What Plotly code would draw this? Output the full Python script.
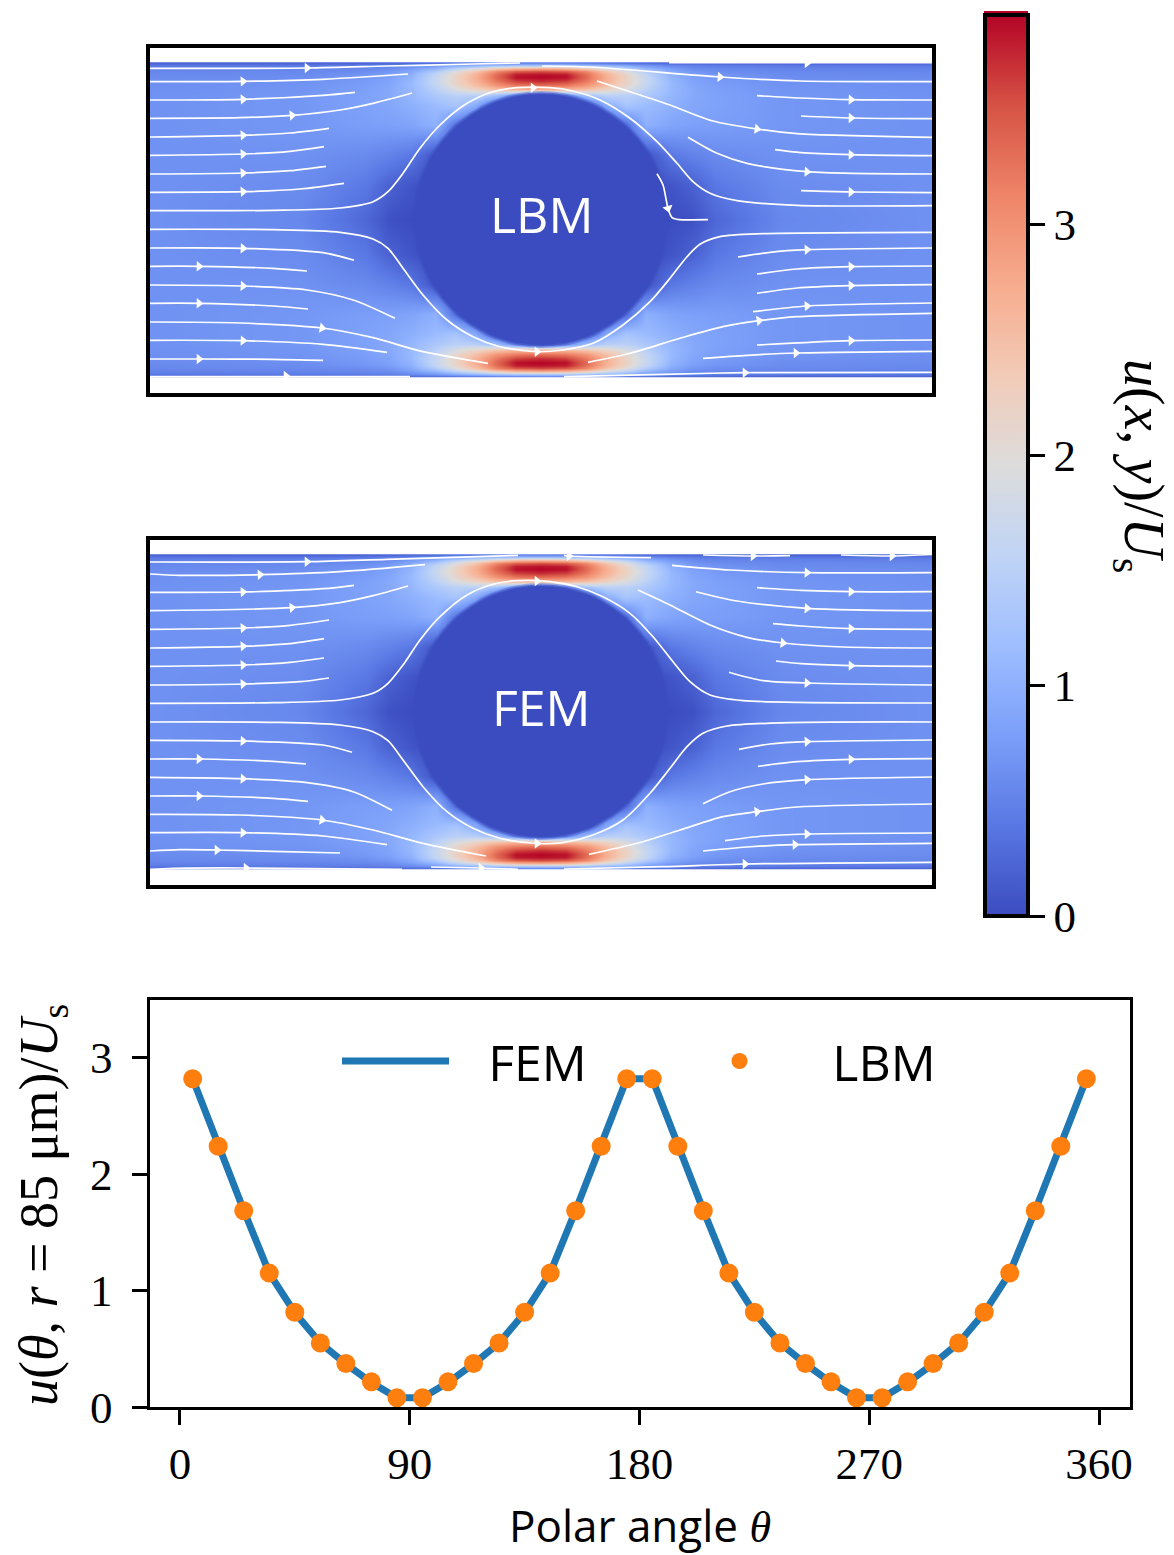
import numpy as np
import plotly.graph_objects as go

# ---------- line plot data ----------
THETA = [5,15,25,35,45,55,65,75,85,95,105,115,125,135,145,155,165,175,
         185,195,205,215,225,235,245,255,265,275,285,295,305,315,325,335,345,355]
LBM_U = [2.82,2.24,1.685,1.15,0.813,0.55,0.373,0.216,0.08,0.08,0.216,0.373,0.55,0.813,1.15,1.685,2.24,2.82,
         2.82,2.24,1.685,1.15,0.813,0.55,0.373,0.216,0.08,0.08,0.216,0.373,0.55,0.813,1.15,1.685,2.24,2.82]
FEM_U = [2.82,2.24,1.69,1.15,0.81,0.55,0.37,0.21,0.08,0.08,0.21,0.37,0.55,0.81,1.15,1.69,2.24,2.82,
         2.82,2.24,1.69,1.15,0.81,0.55,0.37,0.21,0.08,0.08,0.21,0.37,0.55,0.81,1.15,1.69,2.24,2.82]

# ---------- speed field (one quarter of the channel, lattice units) ----------
FIELD_X = [0,152,217,240,262,287,307,327,347,367,392]
FIELD_Y = [17.5,18,20,23,26,29,32,36,40,44,50,60,80,110,140,174.5]
SPEED_Q = [
 [.22,.22,.24,.26,.28,.32,.38,.42,.48,.52,.55],
 [.24,.24,.26,.27,.30,.36,.42,.48,.55,.60,.62],
 [.40,.42,.45,.48,.55,.70,.90,1.05,1.2,1.3,1.3],
 [.50,.52,.55,.60,.75,1.05,1.5,1.85,2.3,2.6,2.7],
 [.55,.57,.62,.70,.90,1.4,1.95,2.45,3.1,3.45,3.55],
 [.58,.60,.68,.78,1.0,1.6,2.15,2.65,3.3,3.8,3.85],
 [.60,.62,.72,.82,1.05,1.65,2.2,2.7,3.35,3.85,3.9],
 [.62,.65,.75,.85,1.1,1.65,2.2,2.65,3.2,3.6,3.7],
 [.63,.67,.78,.88,1.1,1.6,2.1,2.5,2.95,3.2,3.3],
 [.64,.68,.80,.90,1.1,1.5,1.9,2.2,2.5,2.65,2.7],
 [.65,.70,.82,.90,1.08,1.35,1.5,1.5,1.2,.6,.3],
 [.65,.70,.82,.88,1.0,1.15,1.3,.9,.1,0,0],
 [.65,.70,.78,.80,.85,1.0,.3,0,0,0,0],
 [.65,.65,.58,.50,.40,.05,0,0,0,0,0],
 [.65,.60,.40,.20,.08,0,0,0,0,0,0],
 [.65,.55,.25,.05,0,0,0,0,0,0,0],
]
CYL_X = 392
CYL_Y = 174.5
CYL_SIZES = [257, 254, 251]
CYL_ALPHA = [0.35, 0.6, 1.0]

# ---------- streamlines (lattice units) ----------
LBM_STREAMS = [
 [(1,23.3),(158,23),(238,21),(324,19),(371,18)],
 [(1,36.7),(94,36.3),(174,34.3),(259,29)],
 [(1,55),(94,54.3),(174,50.3),(206,47.3)],
 [(1,73.3),(91,72.7),(143,70.3),(191,65),(224,58.3),(263,48)],
 [(1,92),(94,90.3),(141,88),(180,83.3)],
 [(1,110.3),(94,109),(141,106.3),(175,101.7)],
 [(1,129),(94,128),(141,125.7),(177,121.3)],
 [(1,147.3),(94,146.7),(151,144),(195,138.3)],
 [(1,165.7),(124,165.3),(191,163),(224,156.7),(239,146.7),(254,128.3),(271,103.3),(291,80),(318,58.3),(344,46.7),(368,42.7),(401,42.7),(424,46),(451,55),(481,73.3),(508,96.7),(528,118.3),(544,136.7),(561,148.3),(588,155.7),(648,160.3),(783,160.7)],
 [(1,184.3),(124,184.7),(191,187.3),(224,194),(239,203.3),(254,223.3),(274,250),(298,275),(324,291.7),(351,301.7),(388,306.7),(414,305),(444,298.3),(474,280),(501,256.7),(521,233.3),(538,211.7),(551,199.3),(571,191.7),(614,188.7),(783,187.3)],
 [(1,203),(94,203.3),(174,207.7),(205,215.3)],
 [(1,221.3),(50,221.3),(124,223.3),(158,226)],
 [(1,240),(94,241),(158,245),(204,255),(246,273.3)],
 [(1,258.3),(50,258.3),(124,261),(159,264)],
 [(1,277),(91,278),(173,283),(224,292.7),(274,306.7),(339,318.3)],
 [(1,295.3),(94,295.7),(174,299.3),(238,307.3)],
 [(1,314),(50,314),(124,314.3),(174,315.3)],
 [(1,331.7),(137,331.7),(261,331.7)],
 [(520,17.7),(658,17.7),(783,17.7)],
 [(393,21),(441,22),(571,32),(651,36),(783,36.7)],
 [(448,36),(481,46.7),(521,60),(564,76),(608,84),(648,88.7),(783,92.3)],
 [(608,50.7),(651,53),(702,54.7),(783,55)],
 [(652,71),(702,73),(783,73.7)],
 [(626,104.7),(652,107.7),(702,109.7),(783,110.7)],
 [(539,92.3),(568,108.3),(598,118.3),(658,126.7),(783,129)],
 [(652,145.7),(702,147),(783,147.7)],
 [(508,128.7),(514,140),(519,163.3),(523,172.7),(528,174.3),(559,174.7)],
 [(589,212),(621,207.3),(658,204.7),(783,203)],
 [(608,229),(648,224),(702,221.7),(783,221)],
 [(608,248.3),(648,243),(702,240.7),(783,239.7)],
 [(604,266.7),(658,261),(783,258)],
 [(439,317.3),(481,308.3),(531,293.3),(574,281.7),(610,275.7),(648,271.7),(783,268.3)],
 [(608,300),(702,295.7),(783,295)],
 [(554,313.3),(598,310.3),(647,308),(783,306.3)],
 [(415,331.7),(514,329.3),(596,327.7),(783,327.3)],
]
LBM_ARROW_X = [158,94,94,143,94,94,94,94,384,388,94,50,94,50,173,94,50,137,658,571,608,702,702,702,658,702,519,658,702,702,658,610,702,647,596]
LBM_ARROW_Y = [23,36.3,54.3,70.3,90.3,109,128,146.7,42.7,306.7,203.3,221.3,241,258.3,283,295.7,314,331,18,32,84,54.7,73,109.7,126.7,147,163.3,204.7,221.7,240.7,261,275.7,295.7,308,327.7]
LBM_ARROW_A = [0,-2,-2,-5,-3,-3,-3,-3,0,0,2,1,3,1,10,2,0,0,0,4,8,1,1,1,3,1,75,-2,-1,-1,-3,-8,-1,-1,0]

FEM_STREAMS = [
 [(1,25),(158,24.7),(238,22.3),(369,18.3)],
 [(1,37),(31,38.3),(111,37.7),(191,34.7),(276,27.7)],
 [(1,55.3),(94,55),(174,51.7),(205,48.3)],
 [(1,73.7),(143,70.7),(191,65.7),(224,58.7),(259,49)],
 [(1,92.3),(94,91),(141,88.3),(180,83)],
 [(1,111),(94,109.3),(141,106.7),(175,101.7)],
 [(1,129.3),(94,128),(141,125.3),(175,121)],
 [(1,148),(94,147),(151,144.7),(180,141)],
 [(1,166.3),(124,165.7),(191,163),(224,156.3),(239,146.3),(254,128),(271,103),(291,79.7),(318,58),(344,47.3),(368,43.7),(401,44.7),(428,49.7),(454,59.7),(481,76.3),(504,99.7),(524,124.7),(541,144.7),(561,158),(594,163.7),(648,165.3),(783,166)],
 [(1,185),(124,185.3),(191,188),(224,194.7),(239,203.7),(254,223),(274,249.7),(298,274.7),(324,291.3),(351,301.3),(388,306.5),(414,305.7),(444,298),(474,283),(501,256.3),(521,231.3),(538,209.7),(554,196.3),(578,189),(641,185.7),(783,185)],
 [(1,203.3),(94,204),(174,208),(203,215.3)],
 [(1,222),(50,222),(124,224.3),(157,227)],
 [(1,240.3),(94,241.7),(158,245.7),(204,254.7),(243,273.3)],
 [(1,259),(50,259),(124,261.3),(159,264.3)],
 [(1,277.3),(91,278),(173,283),(224,293),(274,306.3),(337,319)],
 [(1,295.7),(94,295.7),(174,299),(238,307.7)],
 [(1,314),(31,312.7),(68,313),(124,314.3),(191,316)],
 [(1,332.3),(24,331.3),(97,331),(253,332.3)],
 [(282,330),(332,331),(369,332.3)],
 [(415,18.3),(420,19),(502,20.7)],
 [(554,18),(604,19),(641,18.7)],
 [(692,18),(743,19),(783,17.5)],
 [(523,28.3),(581,33),(658,35.7),(783,35.7)],
 [(608,50.7),(652,53.3),(702,54.7),(783,54.7)],
 [(547,54.7),(588,64),(658,71.3),(783,73.7)],
 [(624,86.7),(652,89),(702,91.7),(783,92.3)],
 [(489,53),(521,68),(561,88),(598,100.3),(634,106),(694,110),(783,111)],
 [(627,124),(652,126.7),(702,128.7),(783,129.3)],
 [(580,135.3),(614,143.7),(658,146),(783,148)],
 [(590,212.3),(621,207),(658,204.7),(783,203)],
 [(609,229.3),(648,224.7),(702,222.3),(783,221.7)],
 [(554,266.7),(581,254.7),(614,247),(658,242.7),(783,240)],
 [(440,317.3),(488,306.3),(531,293),(574,279.7),(608,274.7),(648,270),(783,267)],
 [(576,303.7),(614,299),(658,297),(783,296)],
 [(554,314),(598,310),(646,307.7),(783,306.3)],
 [(415,332),(514,329.7),(596,327),(783,325.3)],
]
FEM_ARROW_X = [158,111,94,143,94,94,94,94,388,388,94,50,94,50,173,94,68,97,332,420,604,743,658,702,658,702,634,702,658,658,702,658,608,658,646,596]
FEM_ARROW_Y = [24.7,37.7,55,70.7,91,109.3,128,147,44,306.5,204,222,241.7,259,283,295.7,313,331,331,19,19,19,35.7,54.7,71.3,91.7,106,128.7,146,204.7,222.3,242.7,274.7,297,307.7,327]
FEM_ARROW_A = [0,-2,-2,-5,-3,-3,-3,-3,0,0,2,1,3,1,10,2,0,0,0,0,0,0,2,1,3,1,6,1,2,-2,-1,-3,-8,-1,-1,0]

COLORBAR_TICKS = [0,1,2,3]
LINE_TICKS = [0,90,180,270,360]
Y_TICKS = [0,1,2,3]

COOLWARM = ["#3b4cc0","#5977e3","#7b9ff9","#9ebeff","#c0d4f5","#dddcdc",
            "#f2cbb7","#f7ac8e","#ee8468","#d65244","#b40426"]
SERIF = "Liberation Serif"
SANS = "Open Sans"
W, H = 1174, 1555

def dx(a, b): return [a / W, b / W]
def dy(top, bottom): return [1 - bottom / H, 1 - top / H]

q = np.array(SPEED_Q)
row = np.hstack([q, q[:, -2::-1]])
z = np.vstack([row, row[-2::-1]])
xs = FIELD_X + [2 * CYL_X - v for v in FIELD_X[-2::-1]]
ys = FIELD_Y + [2 * CYL_Y - v for v in FIELD_Y[-2::-1]]

def flatten(streams):
    px, py = [], []
    for s in streams:
        px += [p[0] for p in s] + [None]
        py += [p[1] for p in s] + [None]
    return px, py

fig = go.Figure()

def add_panel(xa, ya, streams, ax, ay, aa):
    fig.add_trace(go.Heatmap(x=xs, y=ys, z=z.tolist(), coloraxis="coloraxis", zsmooth="best",
                             xaxis=xa, yaxis=ya, hoverinfo="skip", showlegend=False))
    fig.add_trace(go.Scatter(x=[CYL_X]*3, y=[CYL_Y]*3, mode="markers", xaxis=xa, yaxis=ya,
                             marker=dict(size=CYL_SIZES, color="#3b4cc0", opacity=CYL_ALPHA, line_width=0),
                             hoverinfo="skip", showlegend=False))
    sx, sy = flatten(streams)
    fig.add_trace(go.Scatter(x=sx, y=sy, mode="lines", xaxis=xa, yaxis=ya,
                             line=dict(color="white", width=1.7, shape="spline", smoothing=0.8),
                             hoverinfo="skip", showlegend=False))
    fig.add_trace(go.Scatter(x=ax, y=ay, mode="markers", xaxis=xa, yaxis=ya,
                             marker=dict(symbol="triangle-right", size=9, color="white", angle=aa, line_width=0),
                             hoverinfo="skip", showlegend=False))

add_panel("x", "y", LBM_STREAMS, LBM_ARROW_X, LBM_ARROW_Y, LBM_ARROW_A)
add_panel("x2", "y2", FEM_STREAMS, FEM_ARROW_X, FEM_ARROW_Y, FEM_ARROW_A)

fig.add_trace(go.Scatter(x=THETA, y=FEM_U, mode="lines", name="\u00a0\u00a0\u2009FEM", xaxis="x3", yaxis="y3",
                         line=dict(color="#1f77b4", width=7), hoverinfo="skip"))
fig.add_trace(go.Scatter(x=THETA, y=LBM_U, mode="markers", name="\u00a0\u00a0\u2009LBM", xaxis="x3", yaxis="y3",
                         marker=dict(color="#ff7f0e", size=19), hoverinfo="skip", cliponaxis=False))

frame = dict(showline=True, mirror=True, linecolor="black", linewidth=4,
             showgrid=False, zeroline=False, showticklabels=False, ticks="")

fig.update_layout(
    width=W, height=H, autosize=False,
    margin=dict(l=0, r=0, t=0, b=0, autoexpand=False),
    paper_bgcolor="white", plot_bgcolor="white",
    font=dict(family=SERIF, color="black", size=40),
    xaxis=dict(domain=dx(150, 932), range=[1, 783], **frame),
    yaxis=dict(domain=dy(47.7, 392.7), range=[347.7, 2.7], anchor="x", **frame),
    xaxis2=dict(domain=dx(150, 932), range=[1, 783], anchor="y2", **frame),
    yaxis2=dict(domain=dy(539.5, 884.5), range=[347.5, 2.5], anchor="x2", **frame),
    xaxis3=dict(domain=dx(149.5, 1130), range=[-11.9, 372.1], anchor="y3",
                showline=True, mirror=True, linecolor="black", linewidth=3,
                showgrid=False, zeroline=False, tickmode="array", tickvals=LINE_TICKS,
                ticks="outside", ticklen=15, tickwidth=3, tickcolor="black",
                tickfont=dict(family=SERIF, size=45)),
    yaxis3=dict(domain=dy(999.5, 1407), range=[0, 3.5], anchor="x3",
                showline=True, mirror=True, linecolor="black", linewidth=3,
                showgrid=False, zeroline=False, tickmode="array", tickvals=Y_TICKS,
                ticks="outside", ticklen=15, tickwidth=3, tickcolor="black", ticklabelstandoff=10,
                tickfont=dict(family=SERIF, size=45)),
    coloraxis=dict(cmin=0, cmax=3.91,
                   colorscale=[[i / 10, c] for i, c in enumerate(COOLWARM)],
                   colorbar=dict(xref="container", yref="container", x=984.5 / W, xanchor="left", xpad=0,
                                 y=1 - 15 / H, yanchor="top", ypad=0,
                                 thickness=43, thicknessmode="pixels", len=901, lenmode="pixels",
                                 outlinewidth=4, outlinecolor="black",
                                 tickmode="array", tickvals=COLORBAR_TICKS, tickprefix="\u00a0",
                                 ticks="outside", ticklen=15, tickwidth=3, tickcolor="black",
                                 tickfont=dict(family=SERIF, size=45))),
    legend=dict(orientation="h", xref="container", yref="container",
                x=337 / W, xanchor="left", y=1 - 1061 / H, yanchor="middle",
                bgcolor="rgba(0,0,0,0)", font=dict(family=SANS, size=50),
                itemwidth=107, entrywidth=222, entrywidthmode="pixels", itemclick=False, itemdoubleclick=False),
    shapes=[dict(type="rect", xref="paper", yref="paper", x0=984 / W, x1=1028 / W,
                 y0=1 - 13.5 / H, y1=1 - 11 / H, fillcolor="#b40426", line_width=0)],
    annotations=[
        dict(text="LBM", x=392, y=169, xref="x", yref="y", showarrow=False,
             xanchor="center", yanchor="middle", font=dict(family=SANS, size=50, color="white")),
        dict(text="FEM", x=392, y=170, xref="x2", yref="y2", showarrow=False,
             xanchor="center", yanchor="middle", font=dict(family=SANS, size=50, color="white")),
        dict(text='Polar angle <span style="font-family:Liberation Serif"><i>θ</i></span>',
             x=640 / W, y=1 - 1525 / H, xref="paper", yref="paper", showarrow=False,
             xanchor="center", yanchor="middle", font=dict(family=SANS, size=44)),
        dict(text="<i>u</i>(<i>θ</i>, <i>r</i> = 85 μm)/<i>U</i><sub>s</sub>",
             x=42 / W, y=1 - 1205 / H, xref="paper", yref="paper", showarrow=False, textangle=-90,
             xanchor="center", yanchor="middle", font=dict(family=SERIF, size=54)),
        dict(text="<i>u</i>(<i>x</i>, <i>y</i>)/<i>U</i><sub>s</sub>",
             x=1140 / W, y=1 - 466 / H, xref="paper", yref="paper", showarrow=False, textangle=90,
             xanchor="center", yanchor="middle", font=dict(family=SERIF, size=56)),
    ],
)

fig.write_html("out.html", post_script="document.body.style.margin='0';", config=dict(displayModeBar=False))
